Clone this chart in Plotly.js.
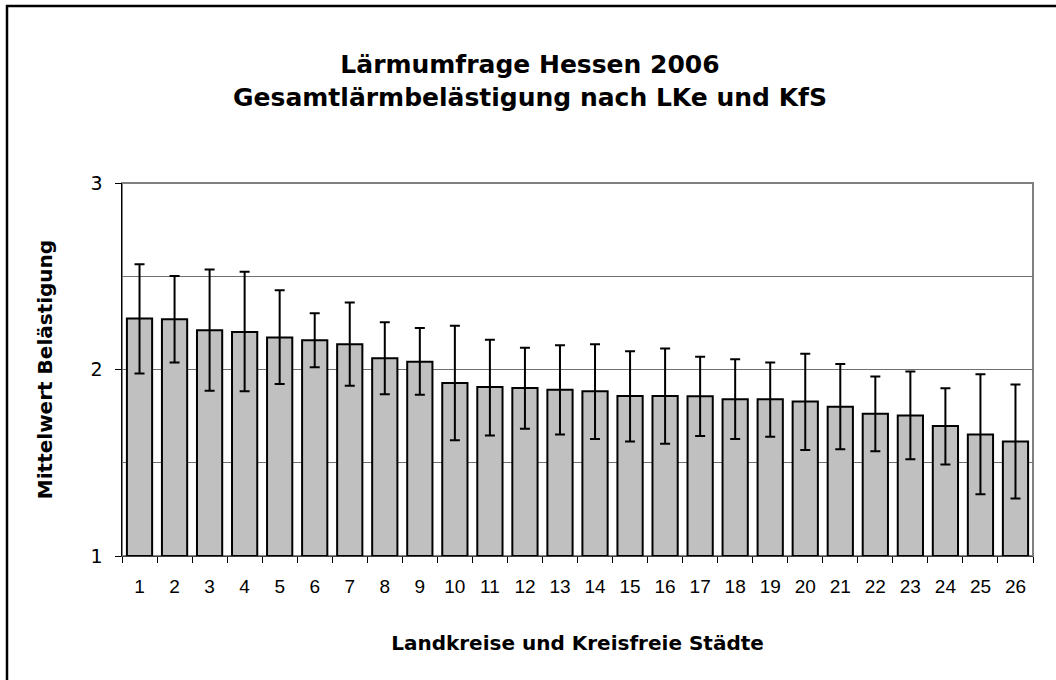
<!DOCTYPE html>
<html>
<head>
<meta charset="utf-8">
<script src="https://cdn.plot.ly/plotly-3.0.1.min.js"></script>
<style>
  html, body { margin: 0; padding: 0; background: #fff; }
  #chart { width: 1056px; height: 680px; }
</style>
</head>
<body>
<div id="chart"></div>
<script>
// Categories (Landkreise und Kreisfreie Städte, numbered)
const categories = ["1","2","3","4","5","6","7","8","9","10","11","12","13","14","15","16","17","18","19","20","21","22","23","24","25","26"];

// Mean annoyance per district
const means = [2.273, 2.269, 2.210, 2.201, 2.171, 2.157, 2.135, 2.060, 2.042, 1.927, 1.906, 1.901, 1.892, 1.883, 1.858, 1.858, 1.856, 1.840, 1.840, 1.829, 1.800, 1.763, 1.754, 1.697, 1.652, 1.614];

// Upper and lower ends of the error bars
const upper = [2.565, 2.502, 2.536, 2.524, 2.425, 2.302, 2.359, 2.253, 2.223, 2.234, 2.160, 2.117, 2.130, 2.135, 2.098, 2.112, 2.069, 2.055, 2.038, 2.085, 2.030, 1.963, 1.989, 1.899, 1.974, 1.920];
const lower = [1.979, 2.038, 1.886, 1.884, 1.922, 2.012, 1.913, 1.867, 1.865, 1.620, 1.646, 1.682, 1.652, 1.627, 1.614, 1.602, 1.643, 1.627, 1.639, 1.569, 1.573, 1.562, 1.519, 1.491, 1.331, 1.308];

const errPlus = upper.map((u, i) => u - means[i]);
const errMinus = lower.map((l, i) => means[i] - l);

const WIDE = "'DejaVu Sans', sans-serif";
const ARIAL = "Arial, 'Liberation Sans', sans-serif";

const trace = {
  type: "bar",
  x: categories,
  y: means.map(v => v - 1),
  base: 1,
  marker: { color: "#c0c0c0", line: { color: "#000000", width: 2 } },
  error_y: {
    type: "data",
    symmetric: false,
    array: errPlus,
    arrayminus: errMinus,
    color: "#000000",
    thickness: 2,
    width: 5
  },
  hoverinfo: "skip"
};

const L = 122, R = 23, T = 183, B = 124;
const W = 1056 - L - R, H = 680 - T - B;

const layout = {
  width: 1056,
  height: 680,
  margin: { l: L, r: R, t: T, b: B, pad: 0 },
  paper_bgcolor: "#ffffff",
  plot_bgcolor: "#ffffff",
  showlegend: false,
  bargap: 0.28,
  font: { family: WIDE, color: "#000000" },
  title: {
    text: "<b>Lärmumfrage Hessen 2006<br>Gesamtlärmbelästigung nach LKe und KfS</b>",
    font: { family: WIDE, size: 25, color: "#000000" },
    x: 530 / 1056,
    xref: "container",
    xanchor: "center",
    y: 1 - 73 / 680,
    yref: "container",
    yanchor: "middle"
  },
  xaxis: {
    type: "category",
    showline: true,
    linecolor: "#404040",
    linewidth: 1,
    ticks: "outside",
    tickson: "boundaries",
    ticklen: 6,
    tickcolor: "#000000",
    showgrid: false,
    tickfont: { family: ARIAL, size: 19, color: "#000000" },
    ticklabelstandoff: 13,
    title: {
      text: "<b>Landkreise und Kreisfreie Städte</b>",
      font: { family: WIDE, size: 20, color: "#000000" },
      standoff: 40
    },
    fixedrange: true
  },
  yaxis: {
    range: [1, 3],
    dtick: 1,
    tick0: 1,
    showline: true,
    linecolor: "#000000",
    linewidth: 1.5,
    ticks: "outside",
    ticklen: 6,
    tickcolor: "#000000",
    showgrid: true,
    gridcolor: "#707070",
    gridwidth: 1,
    zeroline: false,
    minor: { dtick: 0.5, tick0: 1, showgrid: true, gridcolor: "#707070", gridwidth: 1, ticks: "" },
    tickfont: { family: WIDE, size: 19, color: "#000000" },
    ticklabelstandoff: 8,
    title: {
      text: "<b>Mittelwert Belästigung</b>",
      font: { family: WIDE, size: 20, color: "#000000" },
      standoff: 32
    },
    fixedrange: true
  },
  shapes: [
    {
      type: "rect", xref: "paper", yref: "paper", layer: "below",
      x0: 0, x1: 1, y0: 0, y1: 1,
      line: { color: "#808080", width: 2 }
    },
    {
      type: "line", xref: "paper", yref: "paper", layer: "above",
      x0: (7 - L) / W, x1: (7 - L) / W,
      y0: (680 - B - 680) / H, y1: (680 - B - 5) / H,
      line: { color: "#000000", width: 2.5 }
    },
    {
      type: "line", xref: "paper", yref: "paper", layer: "above",
      x0: (6 - L) / W, x1: (1056 - L) / W,
      y0: (680 - B - 6) / H, y1: (680 - B - 6) / H,
      line: { color: "#000000", width: 2.5 }
    }
  ]
};

Plotly.newPlot("chart", [trace], layout, { displayModeBar: false, staticPlot: true });
</script>
</body>
</html>
